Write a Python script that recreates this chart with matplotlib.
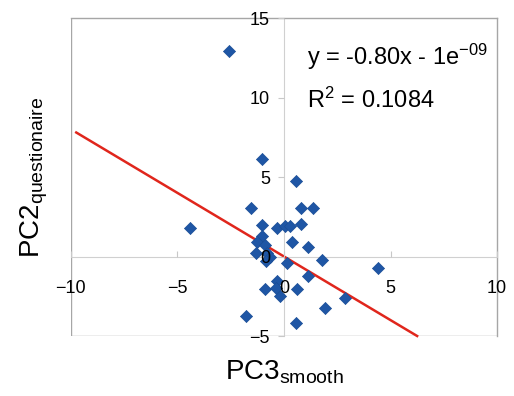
import matplotlib
matplotlib.use('Agg')
import matplotlib.pyplot as plt
import numpy as np

plt.rcParams['font.family'] = ['Liberation Sans', 'DejaVu Sans']
plt.rcParams['mathtext.fontset'] = 'custom'
plt.rcParams['mathtext.rm'] = 'Liberation Sans'
plt.rcParams['mathtext.it'] = 'Liberation Sans'

# PC3 smooth vs PC2 questionaire scores
pc3_smooth = [-2.58, -1.02, 0.55, -1.55, 0.80, 1.35, -1.02, -0.34, 0.05, 0.28,
              0.80, 0.36, 1.14, 1.80, 0.12, 1.14, -0.34, -0.89, 0.60, -0.19,
              1.92, -1.78, 0.55, 2.86, 4.43, -4.41, -1.05, -1.25, -0.90, -1.30,
              -0.80, -0.65, -0.85, -0.38]
pc2_quest = [12.9, 6.16, 4.74, 3.02, 3.02, 3.02, 2.00, 1.80, 1.95, 1.95,
             2.06, 0.90, 0.59, -0.23, -0.40, -1.24, -1.55, -2.03, -2.03, -2.50,
             -3.23, -3.75, -4.17, -2.60, -0.71, 1.80, 1.28, 0.90, 0.75, 0.20,
             0.25, 0.00, -0.30, -1.95]

# trendline as reported on the chart
slope = -0.80
intercept = -1e-09
x_ticks = [-10, -5, 0, 5, 10]
y_ticks = [-5, 0, 5, 10, 15]

fig = plt.figure(figsize=(5.14, 3.96), dpi=100)
ax = fig.add_axes([0.138, 0.1515, 0.829, 0.803])

ax.set_xlim(-10, 10)
ax.set_ylim(-5, 15)

# frame
for side in ['top', 'right']:
    ax.spines[side].set_color('#a6a6a6')
    ax.spines[side].set_linewidth(1.0)
ax.spines['left'].set_position(('data', 0))
ax.spines['bottom'].set_position(('data', 0))
ax.spines['left'].set_color('#d0d0d0')
ax.spines['bottom'].set_color('#d0d0d0')
for sp in ax.spines.values():
    sp.set_zorder(1)
ax.axhline(-5, color='#a6a6a6', lw=1.0, zorder=0)
ax.axvline(-10, color='#a6a6a6', lw=1.0, zorder=0)

ax.set_xticks(x_ticks)
ax.set_yticks(y_ticks)
ax.tick_params(axis='x', direction='in', length=4, color='#c8c8c8',
               labelsize=13, pad=17)
ax.tick_params(axis='y', direction='out', length=4, color='#c8c8c8',
               labelsize=13, pad=6)
# tick labels sit on top of the markers
ax.xaxis.set_zorder(5)
ax.yaxis.set_zorder(5)

# trendline
x_line = np.array([-9.75, (-5 - intercept) / slope])
ax.plot(x_line, slope * x_line + intercept, color='#e0261c', lw=1.8,
        zorder=2, clip_on=False)

ax.scatter(pc3_smooth, pc2_quest, marker='D', s=38, color='#1f56a5',
           edgecolors='#1a4d96', linewidths=0.5, zorder=3)

ax.text(1.06, 12.07, 'y = -0.80x - 1e$^{-09}$', fontsize=17, va='baseline')
ax.text(1.06, 9.37, 'R$^2$ = 0.1084', fontsize=17, va='baseline')

ax.set_xlabel('PC3$_{\\mathrm{smooth}}$', fontsize=20)
ax.set_ylabel('PC2$_{\\mathrm{questionaire}}$', fontsize=20)
ax.xaxis.set_label_coords(0.5, -0.07)
ax.yaxis.set_label_coords(-0.05, 0.5)

fig.savefig('out.png', dpi=100)
